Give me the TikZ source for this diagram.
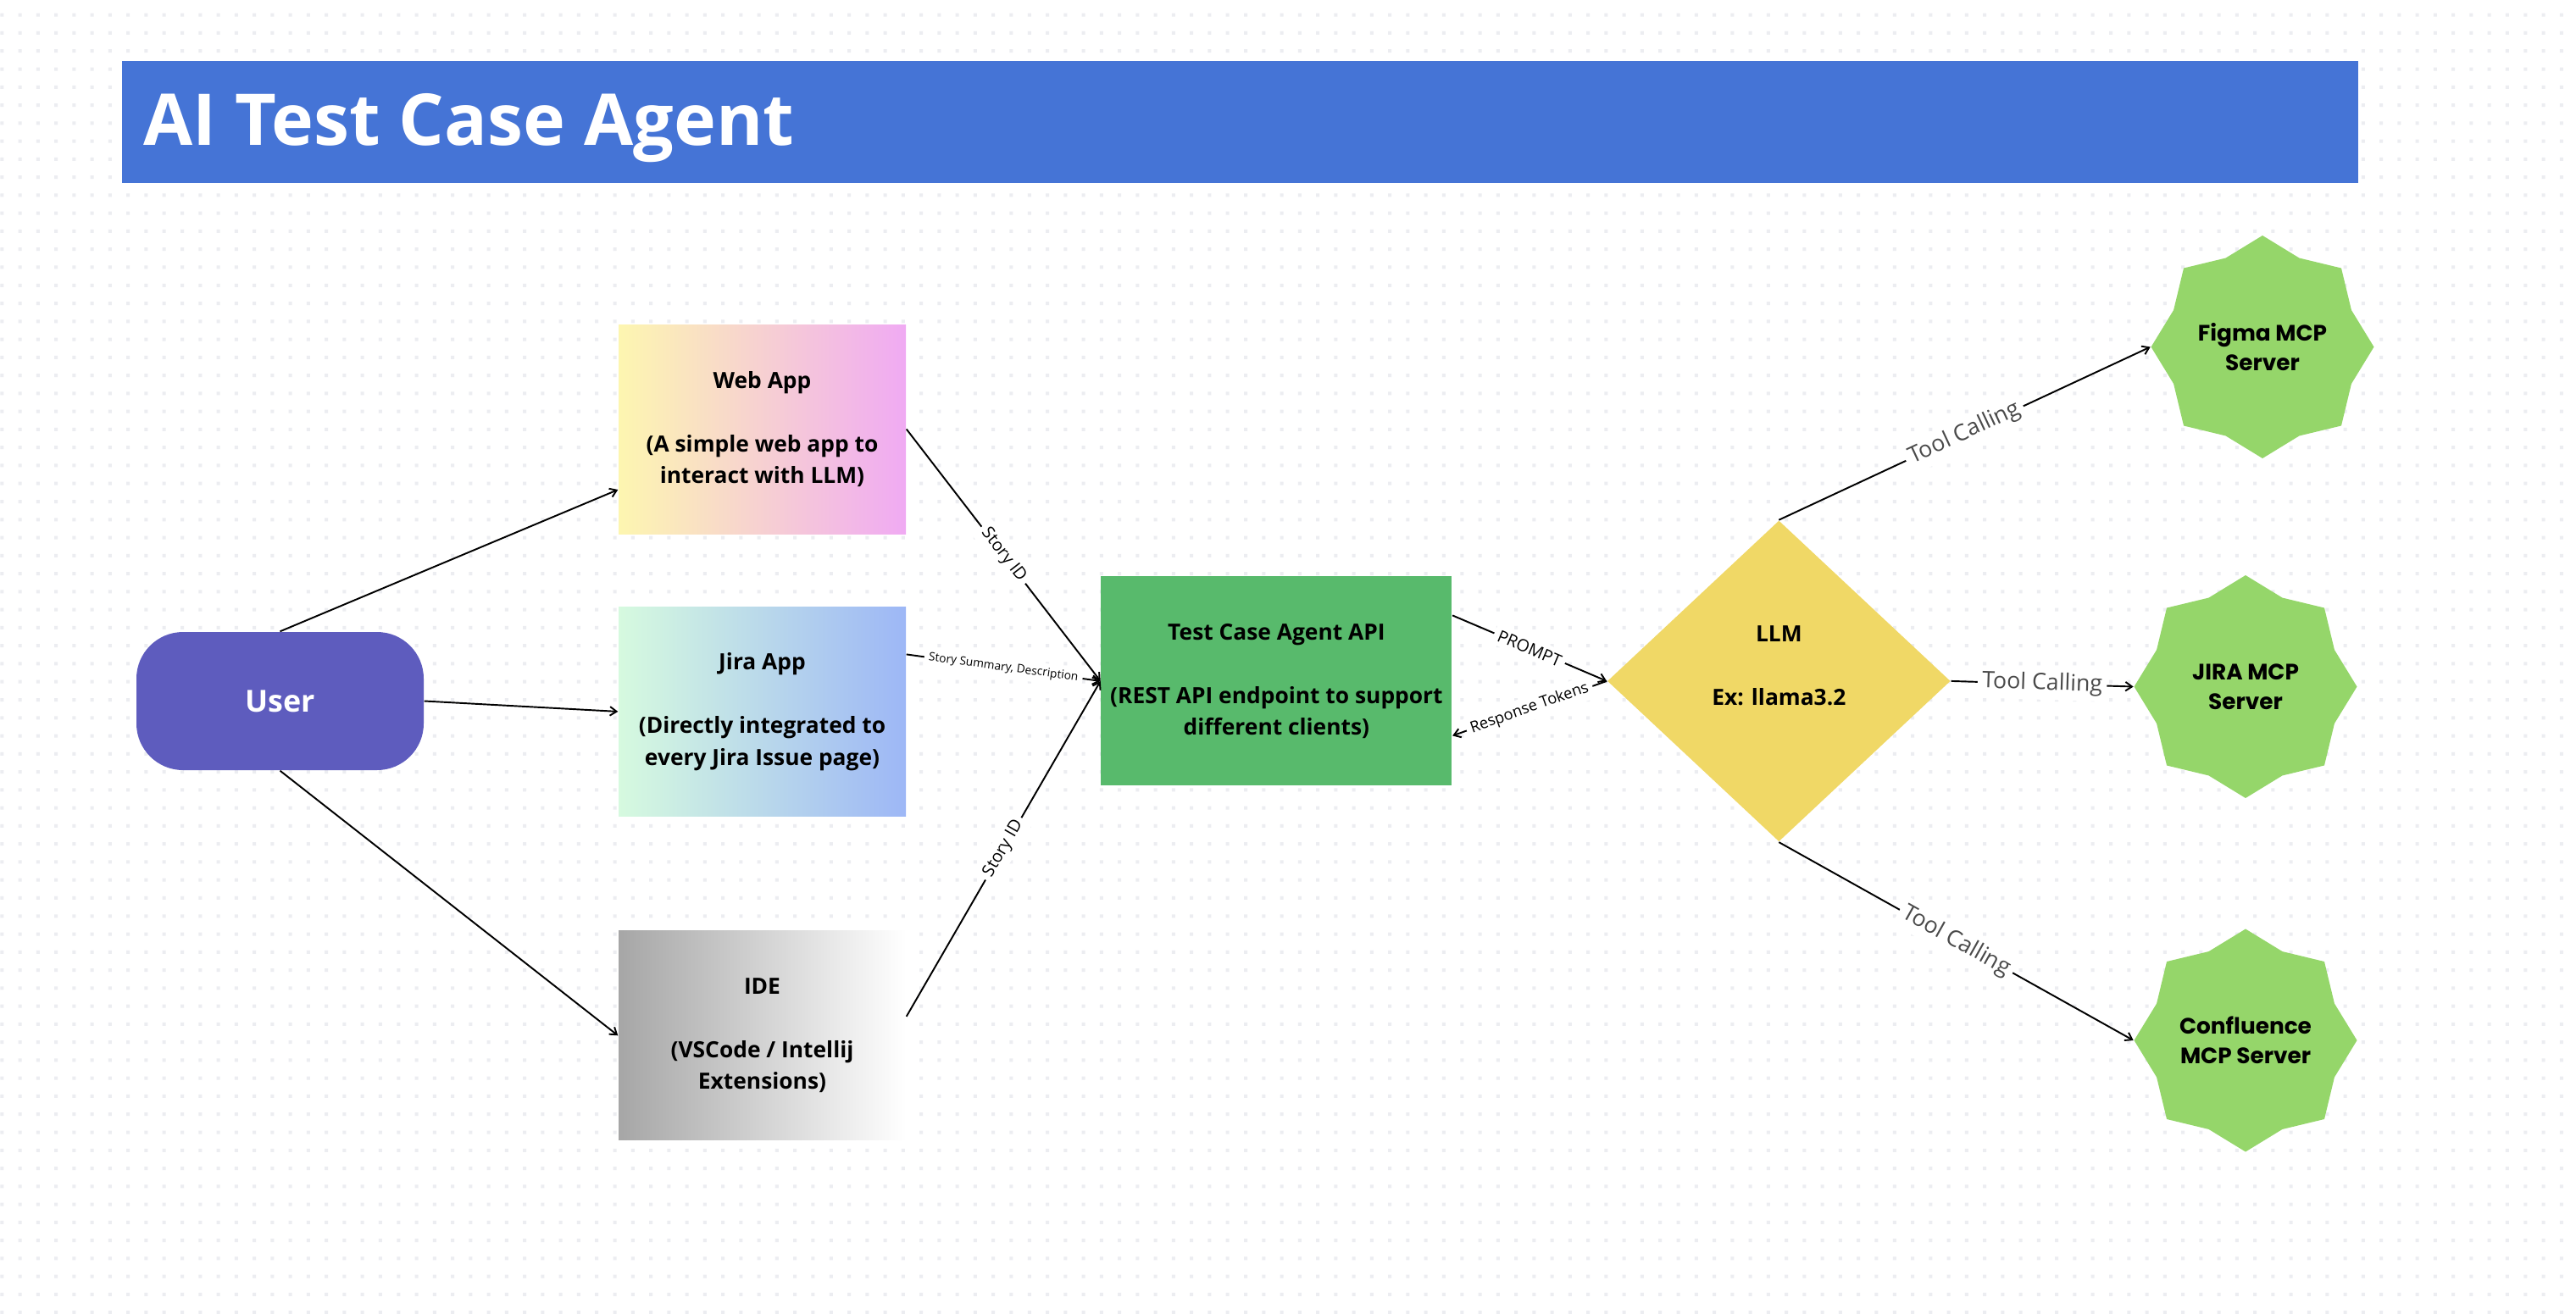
\documentclass[tikz,border=0pt]{standalone}
\usepackage{fontspec}
\setmainfont{Open Sans}
\newfontfamily\titlefont{Open Sans}
\newfontfamily\starfont{Poppins}
\usepackage{xcolor}
\usepackage{tikz}
\usetikzlibrary{positioning, arrows.meta, shapes.geometric}

\definecolor{titleblue}{HTML}{4574D6}
\definecolor{userpurple}{HTML}{5E5CBE}
\definecolor{webyellow}{HTML}{FDF6B0}
\definecolor{webpink}{HTML}{F0AAF3}
\definecolor{jiramint}{HTML}{D6FADF}
\definecolor{jirablue}{HTML}{9DB7F6}
\definecolor{idegray}{HTML}{A6A6A6}
\definecolor{apigreen}{HTML}{58BA6C}
\definecolor{llmyellow}{HTML}{F0D866}
\definecolor{mcpgreen}{HTML}{95D66A}
\definecolor{labelgray}{HTML}{4A4A4A}
\definecolor{griddot}{HTML}{ECEDF1}

\begin{document}
\begin{tikzpicture}[node distance=0.85cm and 2.29cm]

	% Styles
	\tikzset{
		appbox/.style={
			rectangle, minimum width=3.39cm, minimum height=2.47cm,
			inner sep=0pt, align=center,
			font=\fontsize{7.5}{10.67}\selectfont\bfseries
		},
		userbox/.style={
			rectangle, rounded corners=0.55cm, fill=userpurple,
			minimum width=3.39cm, minimum height=1.63cm,
			text=white, font=\fontsize{10.2}{12}\selectfont\bfseries
		},
		apibox/.style={
			appbox, fill=apigreen, minimum width=4.14cm
		},
		llmshape/.style={
			diamond, fill=llmyellow, inner sep=0pt,
			minimum width=4.05cm, minimum height=3.79cm
		},
		mcpstar/.style={
			star, star points=8, star point ratio=1.158,
			minimum size=2.63cm, inner sep=0pt, fill=mcpgreen, align=center,
			font=\starfont\fontsize{7.5}{9.9}\selectfont\bfseries
		},
		flow/.style={line width=0.55pt, -{Straight Barb[length=2.2pt, width=3pt]}},
		lbl/.style={fill=white, inner sep=1.5pt, sloped, pos=0.5},
		calllbl/.style={lbl, text=labelgray, font=\fontsize{7.6}{9}\selectfont}
	}

	% Canvas and dot grid
	\fill[white] (0,0) rectangle (30.4,-15.5);
	\useasboundingbox (0,0) rectangle (30.4,-15.5);
	\foreach \j in {0,...,72}{
		\fill[griddot] \foreach \i in {0,...,142}{
			({0.003+\i*0.2127},{-0.157-\j*0.2127}) rectangle ++(0.04,-0.04)};
	}

	% Title
	\node[rectangle, fill=titleblue, minimum width=26.39cm, minimum height=1.44cm,
		inner sep=0pt] (titlebar) at (14.633,-1.44) {};
	\node[anchor=base west, inner sep=0pt, text=white,
		font=\titlefont\fontsize{24}{29}\selectfont\bfseries] (title) at (1.69,-1.71) {AI Test Case Agent};

	% User and clients
	\node[userbox] (user) at (3.305,-8.275) {User};
	\node[appbox, left color=webyellow, right color=webpink] (webapp) at (8.995,-5.065)
		{Web App\\[10.67pt](A simple web app to\\interact with LLM)};
	\node[appbox, left color=jiramint, right color=jirablue, below=of webapp] (jira)
		{Jira App\\[10.67pt](Directly integrated to\\every Jira Issue page)};
	\node[appbox, left color=idegray, right color=white, below=1.34cm of jira] (ide)
		{IDE\\[10.67pt](VSCode / Intellij\\Extensions)};

	% API and LLM
	\node[apibox, right=of jira, yshift=0.36cm] (api)
		{Test Case Agent API\\[10.67pt](REST API endpoint to support\\different clients)};
	\node[llmshape, right=1.82cm of api] (llm) {};
	\node[align=center, inner sep=0pt, font=\fontsize{7.5}{10.67}\selectfont\bfseries]
		(llmtext) at ([yshift=0.18cm]llm.center) {LLM\\[10.67pt]Ex: llama3.2};

	% MCP servers
	\node[mcpstar] (figma) at (26.70,-4.095) {Figma MCP\\Server};
	\node[mcpstar] (jiramcp) at (26.50,-8.105) {JIRA MCP\\Server};
	\node[mcpstar] (confluence) at (26.50,-12.28) {Confluence\\MCP Server};

	% User to clients
	\draw[flow] (user.north) -- ([yshift=-0.715cm]webapp.west);
	\draw[flow] (user.east) -- (jira.west);
	\draw[flow] (user.south) -- (ide.west);

	% Clients to API
	\draw[flow] (webapp.east) -- node[lbl, font=\fontsize{5.7}{7}\selectfont] {Story ID} (api.west);
	\draw[flow] ([yshift=0.675cm]jira.east) -- node[lbl, font=\fontsize{3.9}{5}\selectfont] {Story Summary, Description} (api.west);
	\draw[flow] ([yshift=0.225cm]ide.east) -- node[lbl, font=\fontsize{5.7}{7}\selectfont] {Story ID} (api.west);

	% API and LLM
	\draw[flow] ([yshift=0.775cm]api.east) -- node[lbl, font=\fontsize{5.6}{7}\selectfont] {PROMPT} (llm.west);
	\draw[flow] (llm.west) -- node[lbl, font=\fontsize{5.2}{6.5}\selectfont] {Response Tokens} ([yshift=-0.645cm]api.east);

	% Tool calls
	\draw[flow] (llm.north) -- node[calllbl] {Tool Calling} (figma.west);
	\draw[flow] (llm.east) -- node[calllbl] {Tool Calling} (jiramcp.west);
	\draw[flow] (llm.south) -- node[calllbl] {Tool Calling} (confluence.west);

\end{tikzpicture}
\end{document}
